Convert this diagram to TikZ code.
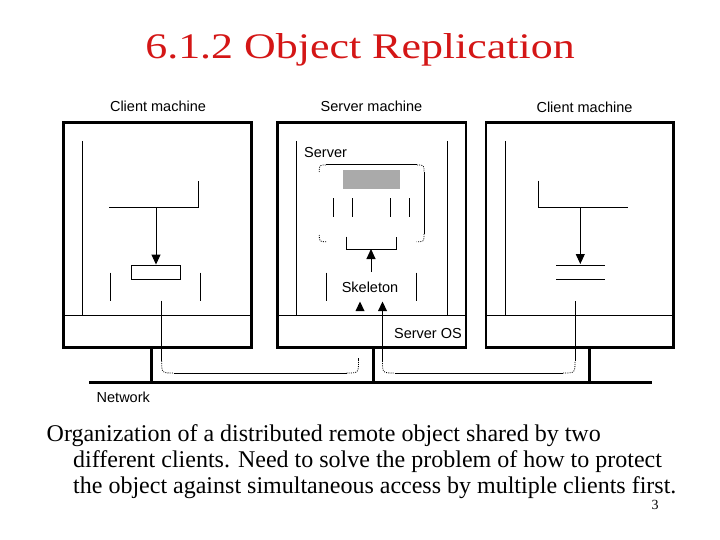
\documentclass[tikz,border=0pt]{standalone}
\usepackage{fontspec}
\setmainfont{Liberation Serif}
\newfontfamily\arialfont{Liberation Sans}
\usetikzlibrary{arrows.meta}
\definecolor{titlered}{RGB}{212,22,22}
\definecolor{objgray}{RGB}{170,170,170}
\begin{document}
\begin{tikzpicture}[x=1pt,y=-1pt,
  thinl/.style={line width=1pt},
  boxl/.style={draw,line width=2.5pt},
  divl/.style={line width=1.5pt},
  netl/.style={line width=3pt},
  lbl/.style={font=\arialfont\fontsize{14.5}{14.5}\selectfont, inner sep=0pt},
  captxt/.style={font=\fontsize{24}{24}\selectfont, inner sep=0pt, anchor=base west},
  tipd/.style={-{Triangle[width=9pt,length=10pt]}},
  dotc/.style={line width=0.8pt, dash pattern=on 1pt off 1.2pt},
]
\useasboundingbox (0,0) rectangle (720,540);
\fill[white] (0,0) rectangle (720,540);

% title
\node[inner sep=0pt, anchor=base] (title) at (360,59)
  {\scalebox{1.22}[1]{\color{titlered}\fontsize{36}{36}\selectfont 6.1.2 Object Replication}};

% machine labels
\node[lbl, anchor=base] (lclient) at (158,111.5) {Client machine};
\node[lbl, anchor=base] (smachine) at (371.5,112) {Server machine};
\node[lbl, anchor=base] (rclient) at (584.5,113) {Client machine};

% ---------- left client ----------
\draw[boxl] (63.5,122.7) rectangle (251.5,347.5);
\draw[divl] (63.5,315.5) -- (251.5,315.5);
\draw[thinl] (82.3,141) -- (82.3,315.5);
\draw[thinl] (109,207.7) -- (198.3,207.7) -- (198.3,180.7);
\coordinate (lsrc) at (156,207.7);
\node[draw, thinl, inner sep=0pt, minimum width=49.4pt, minimum height=14.3pt] (lproxy) at (156,272.2) {};
\draw[thinl, tipd] (lsrc) -- (lproxy.north);
\draw[thinl] (110.3,272.7) -- (110.3,300.7);
\draw[thinl] (200.3,272.7) -- (200.3,300.7);

% ---------- server ----------
\draw[boxl] (277.3,122.7) rectangle (466,347.5);
\draw[divl] (277.3,315.5) -- (466,315.5);
\draw[thinl] (296.7,141) -- (296.7,315.5);
\draw[thinl] (447.3,141) -- (447.3,315.5);
\node[lbl, anchor=base west] (serverlbl) at (304,158) {Server};
% object outline
\draw[thinl] (326,165) -- (417,165);
\draw[thinl] (424,172) -- (424,234);
\draw[dotc] (319.3,172) .. controls (319.3,165) .. (326,165);
\draw[dotc] (417,165) .. controls (424,165) .. (424,172);
\draw[dotc] (424,234) .. controls (424,241.7) .. (416.7,241.7);
\draw[dotc] (319.3,235) .. controls (319.3,241.7) .. (327,241.7);
\fill[objgray] (342.7,170) rectangle (400,189);
\foreach \xx in {333.3,352.7,390.7,409.3}
  \draw[thinl] (\xx,198.3) -- (\xx,217.3);
\draw[thinl] (346,236.7) -- (346,249) -- (396.7,249) -- (396.7,236.7);
\coordinate (brk) at (371,249);
\node[lbl, anchor=base] (skel) at (370,292.5) {Skeleton};
\draw[thinl, tipd] (371,272) -- (brk);
\draw[thinl] (326.7,272.7) -- (326.7,300.7);
\draw[thinl] (416.7,272.7) -- (416.7,300.7);
\fill (355.5,311) -- (364.5,311) -- (360,301.5) -- cycle;
\fill (378,311) -- (387,311) -- (382.5,301.5) -- cycle;
\node[lbl, anchor=base east] (sos) at (462,338) {Server OS};

% ---------- right client ----------
\draw[boxl] (486,122.7) rectangle (673.5,347.5);
\draw[divl] (486,315.5) -- (673.5,315.5);
\draw[thinl] (505,141) -- (505,315.5);
\draw[thinl] (538.3,180.7) -- (538.3,207.7) -- (627.7,207.7);
\coordinate (rsrc) at (580.3,207.7);
\coordinate (rdst) at (580.3,264);
\draw[thinl, tipd] (rsrc) -- (rdst);
\draw[thinl] (556,265) -- (605,265);
\draw[thinl] (556,279.3) -- (605,279.3);

% ---------- network ----------
\coordinate (netw) at (89,382.5);
\coordinate (nete) at (652,382.5);
\draw[netl] (netw) -- (nete);
\foreach \xx in {151.5,373.5,589}
  \draw[netl] (\xx,347.5) -- (\xx,382.5);
\node[lbl, anchor=base west] (netlbl) at (96.5,402.5) {Network};

% loops
\draw[thinl] (161.7,300.7) -- (161.7,361);
\draw[dotc] (161.7,361) .. controls (161.7,373) .. (173.7,373);
\draw[thinl] (173.7,373) -- (346.5,373);
\draw[dotc] (346.5,373) .. controls (358.5,373) .. (358.5,361);
\draw[thinl] (358.5,361) -- (358.5,358);

\draw[thinl] (382.5,310) -- (382.5,361);
\draw[dotc] (382.5,361) .. controls (382.5,373) .. (394.5,373);
\draw[thinl] (394.5,373) -- (563,373);
\draw[dotc] (563,373) .. controls (575,373) .. (575,361);
\draw[thinl] (575,361) -- (575,300.7);

% caption
\node[captxt] (c1) at (46.5,441) {Organization of a distributed remote object shared by two};
\node[captxt] (c2) at (73,467) {different clients. Need to solve the problem of how to protect};
\node[captxt] (c3) at (73,493) {the object against simultaneous access by multiple clients first.};
\node[inner sep=0pt, anchor=base, font=\fontsize{14}{14}\selectfont] (pgno) at (655,509) {3};
\end{tikzpicture}
\end{document}
